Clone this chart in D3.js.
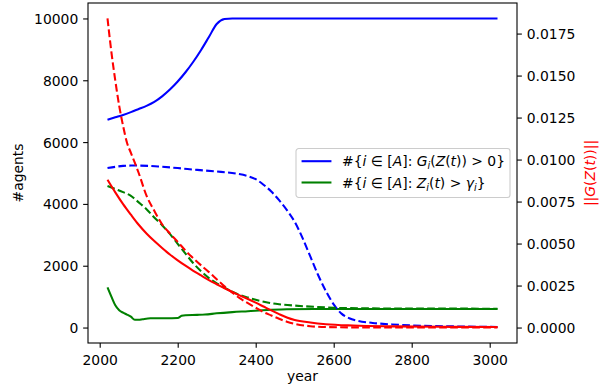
<!DOCTYPE html>
<html>
<head>
<meta charset="utf-8">
<script src="https://cdn.jsdelivr.net/npm/d3@7"></script>
<style>
  body { margin: 0; background: #fff; }
  text { font-family: "DejaVu Sans", sans-serif; }
</style>
</head>
<body>
<div id="chart"></div>
<script>
// values: [year, value]
// left axis (#agents)
const blueSolid = [[2020,6720],[2040,6800],[2060,6880],[2080,6970],[2100,7070],[2120,7170],[2140,7300],
  [2160,7480],[2180,7700],[2200,7960],[2220,8260],[2240,8600],[2260,8980],[2280,9400],[2300,9820],
  [2320,9980],[2340,10000],[2500,10000],[2800,10000],[3020,10000]];
const blueDashed = [[2020,5160],[2040,5200],[2060,5230],[2080,5240],[2100,5240],[2150,5210],[2200,5160],
  [2250,5100],[2300,5050],[2350,4980],[2380,4900],[2400,4800],[2420,4620],[2440,4400],[2460,4120],
  [2480,3800],[2500,3420],[2520,2900],[2540,2300],[2560,1700],[2580,1180],[2600,750],[2620,450],
  [2640,300],[2660,220],[2700,150],[2750,100],[2800,70],[2900,40],[3020,20]];
const greenSolid = [[2020,1300],[2030,1000],[2040,720],[2050,560],[2060,480],[2070,420],[2080,350],
  [2090,250],[2100,250],[2110,270],[2130,300],[2150,300],[2170,300],[2200,310],[2210,380],[2220,400],
  [2250,410],[2270,420],[2300,460],[2340,500],[2380,530],[2430,570],[2480,590],[2550,600],[3020,600]];
const greenDashed = [[2020,4580],[2040,4480],[2060,4380],[2080,4260],[2100,4050],[2120,3830],[2140,3560],
  [2160,3310],[2180,3030],[2200,2710],[2220,2390],[2240,2080],[2260,1820],[2280,1600],[2300,1430],
  [2320,1290],[2340,1160],[2360,1050],[2380,970],[2400,900],[2430,810],[2460,755],[2500,710],
  [2550,670],[2600,640],[2700,620],[3020,610]];
// right axis (||G(Z(t))||)
const redSolid = [[2020,0.00880],[2040,0.00805],[2060,0.00735],[2080,0.00672],[2100,0.00612],[2120,0.00560],
  [2140,0.00515],[2160,0.00474],[2180,0.00435],[2200,0.00400],[2220,0.00368],[2240,0.00338],[2260,0.00310],
  [2280,0.00282],[2300,0.00258],[2320,0.00234],[2340,0.00212],[2360,0.00190],[2380,0.00170],[2400,0.00148],
  [2420,0.00125],[2440,0.00102],[2460,0.00080],[2480,0.00060],[2500,0.00045],[2540,0.00030],[2580,0.00020],
  [2650,0.00012],[2750,0.00007],[2900,0.00004],[3020,0.00003]];
const redDashed = [[2020,0.01840],[2030,0.01640],[2040,0.01470],[2050,0.01320],[2060,0.01200],[2070,0.01100],
  [2080,0.01040],[2100,0.00920],[2120,0.00785],[2140,0.00695],[2160,0.00615],[2180,0.00560],[2200,0.00510],
  [2220,0.00458],[2240,0.00412],[2260,0.00370],[2280,0.00330],[2300,0.00287],[2320,0.00245],[2340,0.00208],
  [2360,0.00173],[2380,0.00145],[2400,0.00118],[2420,0.00092],[2440,0.00072],[2460,0.00052],[2480,0.00035],
  [2500,0.00022],[2540,0.00008],[2580,0.00003],[2650,0.00001],[3020,0]];

const xTicks = [2000, 2200, 2400, 2600, 2800, 3000];
const yLeftTicks = [0, 2000, 4000, 6000, 8000, 10000];
const yRightTicks = [0, 0.0025, 0.005, 0.0075, 0.01, 0.0125, 0.015, 0.0175];

// legend labels: [text, kind]  kind: "" upright, "i" italic, "s" italic subscript
const legendLabels = [
  [["#{",""],["i","i"],[" \u2208 [",""],["A","i"],["]: ",""],["G","i"],["i","s"],["(",""],["Z","i"],["(",""],["t","i"],[")) > 0}",""]],
  [["#{",""],["i","i"],[" \u2208 [",""],["A","i"],["]: ",""],["Z","i"],["i","s"],["(",""],["t","i"],[") > ",""],["\u03b3","i"],["i","s"],["}",""]]
];
const rightLabel = [["||",""],["G","i"],["(",""],["Z","i"],["(",""],["t","i"],["))||",""]];

const margin = { top: 3, right: 82, bottom: 48, left: 88 },
      width = 599 - margin.left - margin.right,
      height = 391 - margin.top - margin.bottom;
const fs = 13.9, tick = 4.86, lw = 2.08;

const svg = d3.select("#chart").append("svg")
  .attr("width", 599).attr("height", 391)
  .append("g")
  .attr("transform", `translate(${margin.left},${margin.top})`);

const x = d3.scaleLinear().domain([1970, 3070]).range([0, width]);
const yL = d3.scaleLinear().domain([-500, 10500]).range([height, 0]);
const yR = d3.scaleLinear().domain([-0.00092, 0.01932]).range([height, 0]);

function mathText(sel, parts) {
  let shifted = false;
  parts.forEach(([t, k]) => {
    const ts = sel.append("tspan").text(t);
    if (k === "i" || k === "s") ts.attr("font-style", "italic");
    if (k === "s") { ts.attr("font-size", fs * 0.7).attr("dy", 3); shifted = true; }
    else if (shifted) { ts.attr("dy", -3); shifted = false; }
  });
}

const lineL = d3.line().x(d => x(d[0])).y(d => yL(d[1])).curve(d3.curveMonotoneX);
const lineR = d3.line().x(d => x(d[0])).y(d => yR(d[1])).curve(d3.curveMonotoneX);
const dash = `${(7.7).toFixed(1)},${(3.3).toFixed(1)}`;

const series = [
  { data: blueSolid, line: lineL, color: "#0000ff", dashed: false },
  { data: greenSolid, line: lineL, color: "#008000", dashed: false },
  { data: blueDashed, line: lineL, color: "#0000ff", dashed: true },
  { data: greenDashed, line: lineL, color: "#008000", dashed: true },
  { data: redSolid, line: lineR, color: "#ff0000", dashed: false },
  { data: redDashed, line: lineR, color: "#ff0000", dashed: true }
];
series.forEach(s => {
  svg.append("path")
    .datum(s.data)
    .attr("d", s.line)
    .attr("fill", "none")
    .attr("stroke", s.color)
    .attr("stroke-width", lw)
    .attr("stroke-dasharray", s.dashed ? dash : null);
});

// axes
const styleAxis = g => {
  g.select(".domain").remove();
  g.selectAll("line").attr("stroke", "#000").attr("stroke-width", 1.1);
  g.selectAll("text").attr("font-family", "DejaVu Sans").attr("font-size", fs).attr("fill", "#000");
};
svg.append("g")
  .attr("transform", `translate(0,${height})`)
  .call(d3.axisBottom(x).tickValues(xTicks).tickFormat(d3.format("d")).tickSize(tick).tickPadding(tick))
  .call(styleAxis)
  .call(g => g.selectAll("text").attr("dy", "0.85em"));
svg.append("g")
  .call(d3.axisLeft(yL).tickValues(yLeftTicks).tickFormat(d3.format("d")).tickSize(tick).tickPadding(tick))
  .call(styleAxis)
  .call(g => g.selectAll("text").attr("dy", "0.36em"));
svg.append("g")
  .attr("transform", `translate(${width},0)`)
  .call(d3.axisRight(yR).tickValues(yRightTicks).tickFormat(d3.format(".4f")).tickSize(tick).tickPadding(tick))
  .call(styleAxis)
  .call(g => g.selectAll("text").attr("dy", "0.36em"));

// frame
svg.append("rect")
  .attr("width", width).attr("height", height)
  .attr("fill", "none").attr("stroke", "#000").attr("stroke-width", 1.1);

// axis labels
svg.append("text")
  .attr("x", width / 2).attr("y", 381 - margin.top)
  .attr("text-anchor", "middle").attr("font-size", fs)
  .text("year");
svg.append("text")
  .attr("transform", `translate(${22.5 - margin.left},${height / 2}) rotate(-90)`)
  .attr("text-anchor", "middle").attr("font-size", fs)
  .text("#agents");
svg.append("text")
  .attr("transform", `translate(${594.5 - margin.left},${height / 2}) rotate(-90)`)
  .attr("text-anchor", "middle").attr("font-size", fs).attr("fill", "#ff0000")
  .call(t => mathText(t, rightLabel));

// legend
const legW = 214, legH = 49;
const leg = svg.append("g")
  .attr("transform", `translate(${width - 7 - legW},${height / 2 - legH / 2})`);
leg.append("rect")
  .attr("width", legW).attr("height", legH).attr("rx", 2.8)
  .attr("fill", "#fff").attr("fill-opacity", 0.8)
  .attr("stroke", "#cccccc").attr("stroke-width", 1.1);
const legColors = ["#0000ff", "#008000"];
legendLabels.forEach((parts, i) => {
  const cy = 12.7 + i * 21.3;
  leg.append("line")
    .attr("x1", 6.6).attr("x2", 34.4).attr("y1", cy).attr("y2", cy)
    .attr("stroke", legColors[i]).attr("stroke-width", lw).attr("stroke-linecap", "square");
  leg.append("text")
    .attr("x", 46).attr("y", cy).attr("dy", "0.36em").attr("font-size", fs)
    .call(t => mathText(t, parts));
});
</script>
</body>
</html>
